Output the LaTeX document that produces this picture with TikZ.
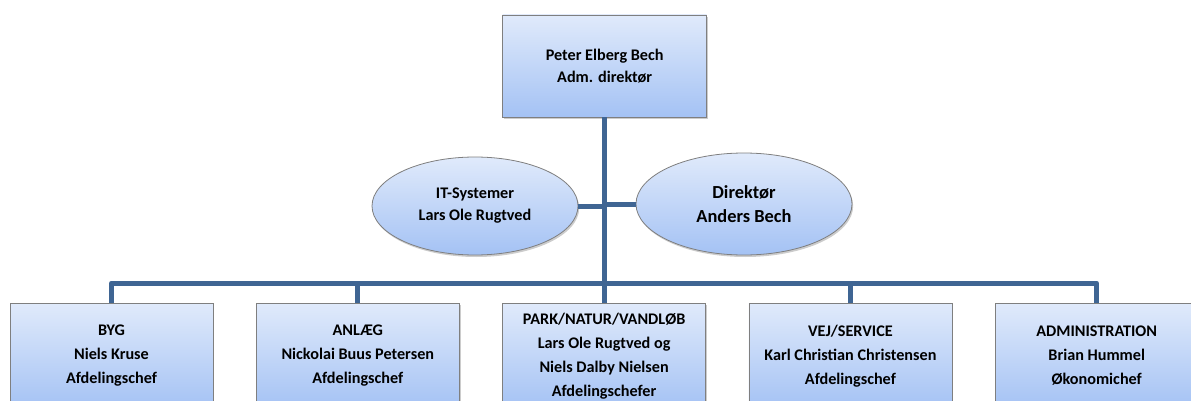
\documentclass[tikz,border=0pt]{standalone}
\usepackage{fontspec}
\setmainfont{Carlito}
\usetikzlibrary{shapes.geometric,positioning,shadows}
\definecolor{boxtop}{HTML}{E0EAFB}
\definecolor{boxbot}{HTML}{A4C2F4}
\definecolor{boxline}{HTML}{7F7F7F}
\definecolor{connblue}{HTML}{3F6593}
\tikzstyle{unit}=[rectangle,draw=boxline,line width=0.8pt,top color=boxtop,bottom color=boxbot,
  drop shadow={shadow xshift=1.2pt,shadow yshift=-2pt,opacity=0.2,fill=black},
  align=center,font=\bfseries\fontsize{16.2}{24}\selectfont]
\tikzstyle{staff}=[unit,ellipse,font=\bfseries\fontsize{16.2}{22}\selectfont]
\tikzstyle{conn}=[draw=connblue,line width=5pt,line join=round]

\begin{document}
\begin{tikzpicture}[x=1pt,y=-1pt,node distance=42.5pt]
    \useasboundingbox (0,0) rectangle (1191,401);
    \clip (0,0) rectangle (1191,401);

    \node (top) [unit, minimum width=204pt, minimum height=102pt, font=\bfseries\fontsize{16.2}{22}\selectfont] at (604.7,66) {Peter Elberg Bech\\Adm. direkt\o r};

    \node (itsys) [staff, minimum width=206pt, minimum height=98pt] at (475,206) {IT-Systemer\\Lars Ole Rugtved};
    \node (direktor) [staff, minimum width=216pt, minimum height=102pt, font=\bfseries\fontsize{18.4}{24}\selectfont] at (744,204) {Direkt\o r\\Anders Bech};

    \node (byg) [unit, minimum width=203pt, minimum height=106pt] at (111.5,356) {BYG\\Niels Kruse\\Afdelingschef};
    \node (anlaeg) [unit, minimum width=203pt, minimum height=106pt] [right=of byg] {ANL\AE G\\Nickolai Buus Petersen\\Afdelingschef};
    \node (park) [unit, minimum width=203pt, minimum height=106pt] [right=of anlaeg] {PARK/NATUR/VANDL\O B\\Lars Ole Rugtved og\\Niels Dalby Nielsen\\Afdelingschefer};
    \node (vej) [unit, minimum width=203pt, minimum height=106pt] [right=of park] {VEJ/SERVICE\\Karl Christian Christensen\\Afdelingschef};
    \node (admin) [unit, minimum width=203pt, minimum height=106pt] [right=of vej] {ADMINISTRATION\\Brian Hummel\\\O konomichef};

    \coordinate (bus) at (604.7,283);

    % trunk and bus
    \path[conn] (top.south) -- (bus);
    \path[conn] (byg.north) |- (bus) -| (admin.north);
    \path[conn] (anlaeg.north) -- (anlaeg.north |- bus);
    \path[conn] (park.north) -- (park.north |- bus);
    \path[conn] (vej.north) -- (vej.north |- bus);

    % staff functions
    \path[conn] (itsys.east) -- (top.south |- itsys.east);
    \path[conn] (direktor.west) -- (top.south |- direktor.west);
\end{tikzpicture}
\end{document}
